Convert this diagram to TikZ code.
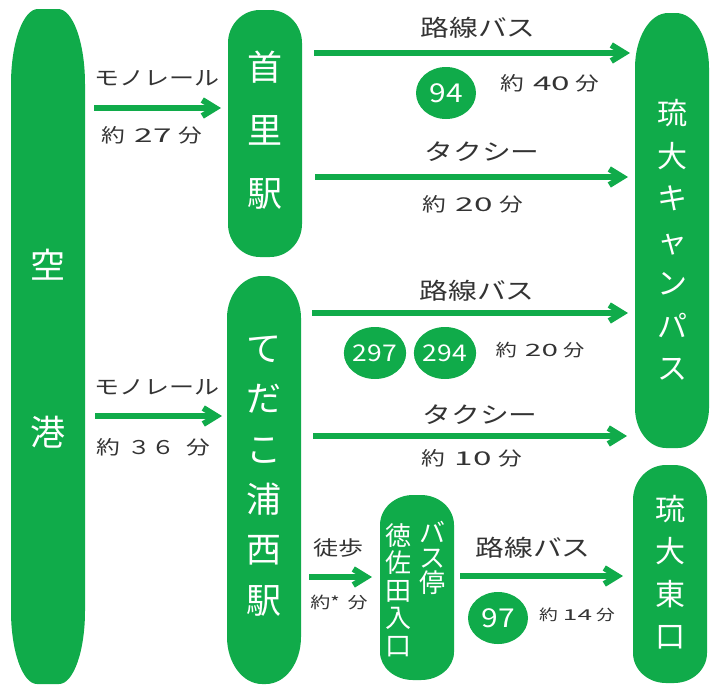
\documentclass[tikz,border=0pt]{standalone}
\usepackage{fontspec}
\setmainfont{Noto Sans CJK JP}
\newfontfamily\jpw[FakeStretch=1.25]{Noto Sans CJK JP}
\newfontfamily\jpd[FakeStretch=1.75]{Noto Sans CJK JP}
\newfontfamily\jpc[FakeStretch=1.15]{Noto Sans CJK JP}
\newfontfamily\jpn{Noto Sans CJK JP}
\usetikzlibrary{arrows.meta,shapes.geometric}
\definecolor{grn}{RGB}{16,171,74}
\definecolor{ink}{RGB}{51,51,51}
\newcommand\dg[1]{{\jpd #1}}
% pill: x1,y1,x2,y2, top rx, top ry, bottom rx, bottom ry
\newcommand\gpill[8]{%
  \fill[grn] (#1,#2+#6) arc[start angle=180,end angle=270,x radius=#5,y radius=#6]
    -- (#3-#5,#2) arc[start angle=270,end angle=360,x radius=#5,y radius=#6]
    -- (#3,#4-#8) arc[start angle=0,end angle=90,x radius=#7,y radius=#8]
    -- (#1+#7,#4) arc[start angle=90,end angle=180,x radius=#7,y radius=#8]
    -- cycle;}
\begin{document}
\begin{tikzpicture}[x=1pt,y=-1pt,
  conn/.style={draw=grn,line width=6pt,-{Straight Barb[length=13pt,width=16pt]}},
  big/.style={text=white,font=\jpn\fontsize{35}{63}\selectfont,align=center,inner sep=0pt},
  mid/.style={text=white,font=\jpn\fontsize{30}{42.5}\selectfont,align=center,inner sep=0pt},
  sml/.style={text=white,font=\jpn\fontsize{26}{27.5}\selectfont,align=center,inner sep=0pt},
  mode/.style={text=ink,font=\jpw\fontsize{23}{26}\selectfont,inner sep=0pt},
  modes/.style={text=ink,font=\jpw\fontsize{20}{24}\selectfont,inner sep=0pt},
  tim/.style={text=ink,font=\jpw\fontsize{19}{22}\selectfont,inner sep=0pt},
  tims/.style={text=ink,font=\jpw\fontsize{17}{20}\selectfont,inner sep=0pt},
  timx/.style={text=ink,font=\jpw\fontsize{15}{18}\selectfont,inner sep=0pt},
  num/.style={ellipse,fill=grn,text=white,minimum width=60pt,minimum height=52pt,inner sep=0pt,font=\jpc\fontsize{23}{26}\selectfont},
  numb/.style={num,font=\jpc\fontsize{26}{28}\selectfont}]
\useasboundingbox (0,0) rectangle (719,686);

% stations
\gpill{11}{9}{85}{684}{27}{75}{26}{73}
\gpill{228}{10}{302}{257}{32}{33}{32}{33}
\gpill{227}{276}{301}{684}{35}{42}{35}{47}
\gpill{635}{13}{709}{448}{33}{55}{31}{40}
\gpill{380}{495}{454}{680}{33}{30}{33}{28}
\gpill{633}{465}{707}{683}{33}{35}{33}{30}

\node[big] (ku) at (48,265) {空};
\node[big] (ko) at (48,432) {港};
\node[big] (shuri) at (265,130) {首\\里\\駅};
\node[big,font=\jpn\fontsize{35}{50.4}\selectfont] (tedako) at (264,476) {て\\だ\\こ\\浦\\西\\駅};
\node[mid] (campus) at (672,240) {琉\\大\\キ\\ャ\\ン\\パ\\ス};
\node[mid] (east) at (670,572) {琉\\大\\東\\口};
\node[sml,font=\jpn\fontsize{26}{25}\selectfont] (stopa) at (432,558) {バ\\ス\\停};
\node[sml] (stopb) at (398,590) {徳\\佐\\田\\入\\口};

% connector end points
\coordinate (a1s) at (94,108);  \coordinate (a1e) at (221,108);
\coordinate (a2s) at (95,416);  \coordinate (a2e) at (222,416);
\coordinate (b1s) at (314,53);  \coordinate (b1e) at (630,53);
\coordinate (t1s) at (315,177); \coordinate (t1e) at (628,177);
\coordinate (b2s) at (312,313); \coordinate (b2e) at (628,313);
\coordinate (t2s) at (313,436); \coordinate (t2e) at (627,436);
\coordinate (ws) at (309,577);  \coordinate (we) at (372,577);
\coordinate (b3s) at (460,576); \coordinate (b3e) at (623,576);

\draw[conn] (a1s) -- (a1e);
\draw[conn] (a2s) -- (a2e);
\draw[conn] (b1s) -- (b1e);
\draw[conn] (t1s) -- (t1e);
\draw[conn] (b2s) -- (b2e);
\draw[conn] (t2s) -- (t2e);
\draw[conn] (ws) -- (we);
\draw[conn] (b3s) -- (b3e);

% labels
\node[modes] (lm1) at (157,78) {モノレール};
\node[tim] (lt1) at (152,135) {約\hspace{9pt}\dg{27}\hspace{7pt}分};
\node[modes] (lm2) at (157,387) {モノレール};
\node[tim] (lt2) at (153,447) {約\hspace{8pt}３６\hspace{11pt}分};
\node[mode] (lb1) at (478,28) {路線バス};
\node[numb] (c94) at (446,93) {94};
\node[tim] (lt3) at (550,83) {約\hspace{9pt}\dg{40}\hspace{6pt}分};
\node[mode] (lx1) at (482,152) {タクシー};
\node[tim] (lt4) at (473,204) {約\hspace{9pt}\dg{20}\hspace{7pt}分};
\node[mode] (lb2) at (477,291) {路線バス};
\node[num] (c297) at (375,353) {297};
\node[num] (c294) at (445,353) {294};
\node[tims] (lt5) at (540,350) {約\hspace{8pt}\dg{20}\hspace{5pt}分};
\node[mode] (lx2) at (480,415) {タクシー};
\node[tim] (lt6) at (472,458) {約\hspace{9pt}\dg{10}\hspace{7pt}分};
\node[modes] (lw) at (338,548) {徒歩};
\node[tims,font=\jpw\fontsize{16}{19}\selectfont] (lt7) at (339,602) {約*\hspace{8pt}分};
\node[mode] (lb3) at (533,548) {路線バス};
\node[numb] (c97) at (498,618) {97};
\node[timx] (lt8) at (577,615) {約\hspace{5pt}\dg{14}\hspace{4pt}分};
\end{tikzpicture}
\end{document}
